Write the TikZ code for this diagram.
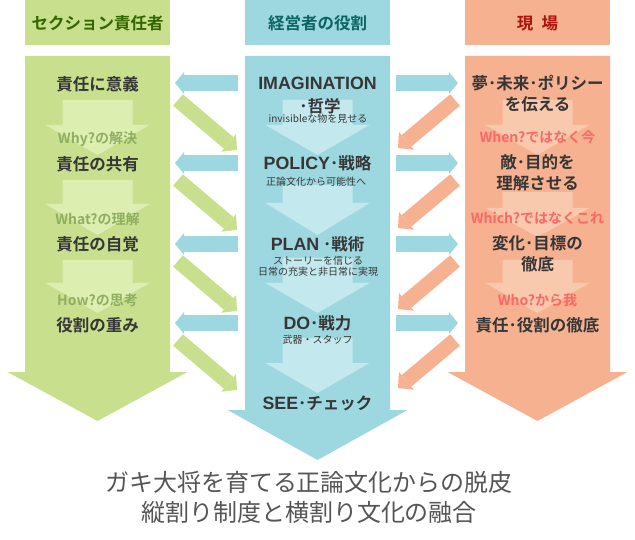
\documentclass[tikz,border=0pt]{standalone}
\usepackage{fontspec}
\setmainfont{Noto Sans CJK JP}[BoldFont={Noto Sans CJK JP Bold}]
\newfontfamily\arialfont{Liberation Sans}[Scale=1.08]
\usetikzlibrary{arrows.meta,calc}
\definecolor{rlGreen}{HTML}{C8DF8E}
\definecolor{rlGreenLt}{HTML}{DDEEB1}
\definecolor{rlBlue}{HTML}{9DD8E0}
\definecolor{rlBlueLt}{HTML}{C3E9EF}
\definecolor{rlOrange}{HTML}{F6B190}
\definecolor{rlOrangeLt}{HTML}{F9C9AD}
\definecolor{rlText}{HTML}{363636}
\definecolor{rlGreenHd}{HTML}{336600}
\definecolor{rlBlueHd}{HTML}{0B6464}
\definecolor{rlRedHd}{HTML}{B01010}
\definecolor{rlWhy}{HTML}{8FAE62}
\definecolor{rlWhen}{HTML}{FF6666}
\definecolor{rlFoot}{HTML}{555555}
\tikzset{
    base/.style={align=center, inner sep=0pt, text=rlText},
    head/.style={base, font=\fontsize{16.5}{18}\selectfont\bfseries},
    item/.style={base, font=\fontsize{16.5}{21}\selectfont\bfseries},
    note/.style={base, font=\fontsize{10}{11}\selectfont},
    why/.style={base, font=\fontsize{14}{16}\selectfont\bfseries, text=rlWhy},
    when/.style={base, font=\fontsize{14}{16}\selectfont\bfseries, text=rlWhen},
    foot/.style={base, font=\fontsize{24}{30}\selectfont, text=rlFoot},
    hband/.style={draw=rlBlue, line width=16pt,
                  -{Triangle[length=9pt, width=22pt, line width=0pt]}},
    gband/.style={draw=rlGreen, line width=15pt,
                  -{Triangle[length=11pt, width=23pt, line width=0pt]}},
    oband/.style={draw=rlOrange, line width=15pt,
                  -{Triangle[length=11pt, width=23pt, line width=0pt]}}
}
% big column arrow: centre x, head base, tip, colour
\newcommand{\colarrow}[4]{%
  \fill[#4] (#1-72.5,56) -- (#1+72.5,56) -- (#1+72.5,#2) -- (#1+90,#2)
    -- (#1,#3) -- (#1-90,#2) -- (#1-72.5,#2) -- cycle;}
% light step arrow inside a column: centre x, shaft top, head base, tip, colour
\newcommand{\steparrow}[5]{%
  \fill[#5] (#1-35,#2) -- (#1+35,#2) -- (#1+35,#3) -- (#1+52,#3)
    -- (#1,#4) -- (#1-52,#3) -- (#1-35,#3) -- cycle;}
\begin{document}
\begin{tikzpicture}[x=1pt, y=-1pt]
  \useasboundingbox (0,0) rectangle (635,540);

  % Column headers
  \fill[rlGreen]  (25,0)  rectangle (170,45);
  \fill[rlBlue]   (245,0) rectangle (390,45);
  \fill[rlOrange] (465,0) rectangle (610,45);
  \node[head, text=rlGreenHd] (hLeft)  at (97.5,23)  {セクション責任者};
  \node[head, text=rlBlueHd]  (hMid)   at (317.5,23) {経営者の役割};
  \node[head, text=rlRedHd]   (hRight) at (537.5,23) {現\hspace{0.5em}場};

  % Big column arrows
  \colarrow{97.5}{372}{421}{rlGreen}
  \colarrow{317.5}{410}{460}{rlBlue}
  \colarrow{537.5}{372}{421}{rlOrange}

  % Light step arrows
  \foreach \t/\b/\p in {100/125/155, 180/204/235, 260/283/313} {
    \steparrow{97.5}{\t}{\b}{\p}{rlGreenLt}
  }
  \foreach \t/\b/\p in {100/125/155, 185/203/235, 258/283/313, 338/363/393} {
    \steparrow{317.5}{\t}{\b}{\p}{rlBlueLt}
  }
  \foreach \t/\b/\p in {100/125/155, 192/208/237, 260/283/313} {
    \steparrow{537.5}{\t}{\b}{\p}{rlOrangeLt}
  }

  % Left column
  \node[item] (l1)  at (97.5,84)  {責任に意義};
  \node[why]  (l1w) at (97.5,139) {Why?の解決};
  \node[item] (l2)  at (97.5,164) {責任の共有};
  \node[why]  (l2w) at (97.5,219) {What?の理解};
  \node[item] (l3)  at (97.5,244) {責任の自覚};
  \node[why]  (l3w) at (97.5,300) {How?の思考};
  \node[item] (l4)  at (97.5,325) {役割の重み};

  % Middle column
  \node[item] (m1)  at (317.5,83)  {{\arialfont IMAGINATION}};
  \node[item] (m1b) at (320,106)   {･哲学};
  \node[note] (m1c) at (318,119)   {invisibleな物を見せる};
  \node[item] (m2)  at (317.5,163) {{\arialfont POLICY}･戦略};
  \node[note] (m2c) at (316,182)   {正論文化から可能性へ};
  \node[item] (m3)  at (317.5,244) {{\arialfont PLAN} ･戦術};
  \node[note] (m3c) at (318,266.5) {ストーリーを信じる\\日常の充実と非日常に実現};
  \node[item] (m4)  at (317.5,323) {{\arialfont DO}･戦力};
  \node[note] (m4c) at (317.5,340) {武器・スタッフ};
  \node[item] (m5)  at (317.5,403) {{\arialfont SEE}･チェック};

  % Right column
  \node[item] (r1)  at (537.5,94)  {夢･未来･ポリシー\\を伝える};
  \node[when] (r1w) at (537.5,137) {When?ではなく今};
  \node[item] (r2)  at (537.5,173) {敵･目的を\\理解させる};
  \node[when] (r2w) at (537.5,218) {Which?ではなくこれ};
  \node[item] (r3)  at (537.5,254) {変化･目標の\\徹底};
  \node[when] (r3w) at (537.5,300) {Who?から我};
  \node[item] (r4)  at (537.5,325) {責任･役割の徹底};

  % Bands between the columns
  \coordinate (lgap)   at (175,0);
  \coordinate (mleft)  at (238,0);
  \coordinate (mright) at (396,0);
  \coordinate (rgap)   at (458,0);
  \foreach \i in {1,...,4} {
    \draw[hband] (mleft |- m\i) -- (lgap |- m\i);
    \draw[hband] (mright |- m\i) -- (rgap |- m\i);
    \draw[gband] ($(lgap |- m\i)+(3,17)$) -- ($(mleft |- m\i)+(-1,67)$);
    \draw[oband] ($(rgap |- m\i)+(-3,17)$) -- ($(mright |- m\i)+(2,65)$);
  }

  % Footer
  \node[foot] (f1) at (309,482) {ガキ大将を育てる正論文化からの脱皮};
  \node[foot] (f2) at (309,512) {縦割り制度と横割り文化の融合};
\end{tikzpicture}
\end{document}
